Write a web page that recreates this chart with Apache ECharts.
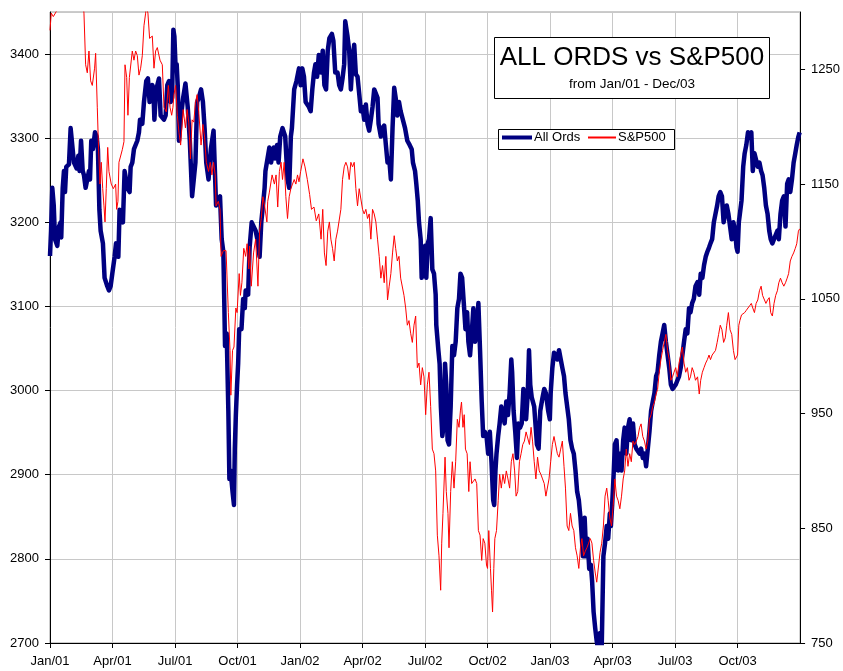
<!DOCTYPE html>
<html>
<head>
<meta charset="utf-8">
<script src="https://cdn.jsdelivr.net/npm/echarts@6/dist/echarts.min.js"></script>
<style>
  html, body { margin: 0; padding: 0; background: #fff; }
  #chart { width: 843px; height: 671px; }
</style>
</head>
<body>
<div id="chart"></div>
<script>
// x = months since Jan 2001
const quarterLabels = ['Jan/01','Apr/01','Jul/01','Oct/01','Jan/02','Apr/02','Jul/02','Oct/02','Jan/03','Apr/03','Jul/03','Oct/03'];

const allOrds = [
  [0,3160],[0.05,3190],[0.11,3241],[0.18,3220],[0.24,3180],[0.35,3172],[0.43,3195],[0.51,3200],[0.54,3182],[0.61,3241],
  [0.67,3261],[0.72,3236],[0.78,3266],[0.91,3269],[0.99,3312],[1.07,3312],[1.15,3271],[1.28,3264],[1.36,3279],[1.42,3261],
  [1.49,3297],[1.57,3261],[1.63,3256],[1.71,3241],[1.79,3241],[1.87,3261],[1.92,3251],[1.98,3297],[2.06,3287],[2.16,3307],
  [2.24,3302],[2.30,3287],[2.37,3215],[2.43,3190],[2.54,3175],[2.62,3134],[2.75,3124],[2.83,3119],[2.91,3124],[2.99,3139],
  [3.10,3159],[3.17,3175],[3.23,3175],[3.28,3159],[3.34,3215],[3.42,3215],[3.50,3200],[3.58,3261],[3.65,3251],[3.71,3241],
  [3.82,3236],[3.87,3266],[3.95,3271],[4.03,3287],[4.11,3287],[4.19,3297],[4.27,3307],[4.32,3322],[4.43,3317],[4.51,3343],
  [4.62,3368],[4.70,3371],[4.78,3343],[4.83,3358],[4.91,3363],[4.96,3360],[5.01,3322],[5.07,3348],[5.15,3363],[5.23,3371],
  [5.31,3327],[5.47,3322],[5.55,3327],[5.63,3363],[5.71,3368],[5.79,3343],[5.86,3348],[5.92,3429],[5.97,3421],[6.03,3383],
  [6.08,3388],[6.13,3363],[6.19,3297],[6.27,3322],[6.39,3348],[6.50,3365],[6.61,3337],[6.71,3297],[6.82,3231],[6.90,3251],
  [6.98,3271],[7.06,3343],[7.14,3348],[7.25,3358],[7.34,3343],[7.42,3312],[7.50,3271],[7.61,3251],[7.72,3287],[7.85,3309],
  [7.93,3307],[7.97,3220],[8.08,3226],[8.16,3231],[8.24,3180],[8.32,3165],[8.37,3098],[8.40,3053],[8.48,3068],[8.56,2976],
  [8.61,2895],[8.67,2905],[8.76,2880],[8.83,2864],[8.87,2931],[8.92,2971],[8.98,3007],[9.03,3032],[9.08,3073],[9.19,3073],
  [9.27,3109],[9.35,3098],[9.39,3119],[9.51,3114],[9.58,3170],[9.68,3200],[9.77,3200],[9.87,3190],[9.95,3180],[10.06,3159],
  [10.14,3200],[10.22,3220],[10.30,3241],[10.34,3261],[10.41,3261],[10.53,3289],[10.61,3271],[10.74,3289],[10.80,3276],[10.90,3292],
  [10.97,3271],[11.05,3302],[11.16,3312],[11.29,3302],[11.40,3251],[11.48,3241],[11.56,3302],[11.61,3312],[11.72,3358],[11.83,3368],
  [11.95,3383],[12.03,3363],[12.11,3383],[12.19,3373],[12.27,3343],[12.43,3337],[12.51,3332],[12.59,3358],[12.67,3378],[12.74,3388],
  [12.82,3373],[12.90,3399],[13.01,3378],[13.09,3404],[13.17,3363],[13.25,3358],[13.33,3404],[13.41,3419],[13.53,3424],[13.60,3416],
  [13.69,3378],[13.80,3378],[13.88,3363],[13.96,3358],[14.04,3371],[14.12,3388],[14.17,3439],[14.28,3421],[14.36,3404],[14.44,3358],
  [14.52,3393],[14.60,3411],[14.68,3376],[14.76,3373],[14.84,3353],[14.92,3332],[15.00,3337],[15.08,3322],[15.16,3340],[15.24,3317],
  [15.32,3309],[15.40,3322],[15.48,3337],[15.56,3358],[15.64,3360],[15.72,3348],[15.77,3317],[15.88,3302],[15.96,3312],[16.04,3315],
  [16.12,3292],[16.20,3271],[16.28,3276],[16.36,3251],[16.44,3312],[16.52,3360],[16.59,3348],[16.67,3327],[16.75,3343],[16.83,3332],
  [16.91,3330],[17.04,3312],[17.15,3297],[17.26,3292],[17.36,3287],[17.42,3271],[17.52,3261],[17.58,3246],[17.65,3226],[17.71,3200],
  [17.79,3180],[17.84,3134],[17.90,3165],[18.00,3172],[18.06,3134],[18.13,3175],[18.19,3180],[18.27,3205],[18.35,3144],[18.43,3139],
  [18.51,3114],[18.54,3078],[18.64,3048],[18.70,3032],[18.76,2981],[18.83,2946],[18.88,2956],[18.96,3032],[19.02,3007],[19.08,2941],
  [19.15,2936],[19.23,2981],[19.31,3053],[19.39,3042],[19.47,3058],[19.55,3098],[19.63,3109],[19.70,3139],[19.78,3134],[19.86,3104],
  [19.94,3073],[20.02,3093],[20.08,3058],[20.16,3042],[20.24,3068],[20.32,3098],[20.40,3058],[20.48,3068],[20.56,3104],[20.64,3048],
  [20.72,2987],[20.79,2946],[20.87,2951],[20.95,2946],[21.03,2925],[21.11,2951],[21.19,2915],[21.27,2870],[21.32,2864],[21.38,2905],
  [21.43,2925],[21.51,2946],[21.58,2961],[21.66,2981],[21.74,2981],[21.82,2961],[21.90,2987],[21.98,2971],[22.06,2997],[22.14,3037],
  [22.18,3022],[22.25,2976],[22.33,2951],[22.41,2920],[22.48,2961],[22.56,2956],[22.64,2961],[22.72,3002],[22.80,3002],[22.85,2966],
  [22.93,2997],[22.99,3048],[23.05,3007],[23.12,2992],[23.24,2981],[23.37,2936],[23.45,2931],[23.53,2976],[23.64,2992],[23.72,3002],
  [23.80,2997],[23.91,2976],[23.99,2966],[24.03,2997],[24.11,3027],[24.19,3045],[24.27,3042],[24.35,3037],[24.43,3048],[24.51,3050],
  [24.59,3027],[24.67,3017],[24.74,2997],[24.82,2997],[24.90,2966],[24.98,2941],[25.06,2931],[25.14,2925],[25.22,2905],[25.30,2880],
  [25.38,2870],[25.46,2849],[25.53,2824],[25.58,2803],[25.66,2849],[25.74,2803],[25.80,2824],[25.88,2788],[25.96,2793],[26.02,2773],
  [26.09,2737],[26.17,2717],[26.24,2702],[26.32,2690],[26.40,2712],[26.48,2695],[26.56,2803],[26.64,2819],[26.72,2839],[26.79,2824],
  [26.87,2854],[26.92,2839],[26.98,2864],[27.06,2905],[27.11,2936],[27.19,2941],[27.27,2905],[27.35,2925],[27.43,2905],[27.51,2941],
  [27.58,2956],[27.66,2925],[27.74,2956],[27.82,2966],[27.90,2941],[27.98,2961],[28.06,2936],[28.14,2931],[28.22,2931],[28.30,2925],
  [28.37,2931],[28.45,2920],[28.53,2925],[28.61,2910],[28.69,2908],[28.77,2951],[28.85,2976],[28.93,2987],[29.01,2997],[29.09,3017],
  [29.16,3022],[29.24,3042],[29.32,3058],[29.40,3068],[29.48,3078],[29.56,3058],[29.64,3058],[29.72,3027],[29.80,3007],[29.88,3002],
  [29.95,3002],[30.03,3007],[30.11,3012],[30.19,3017],[30.27,3027],[30.35,3042],[30.43,3058],[30.51,3073],[30.59,3068],[30.67,3098],
  [30.74,3093],[30.82,3104],[30.90,3109],[30.98,3124],[31.08,3129],[31.16,3114],[31.23,3139],[31.31,3134],[31.39,3149],[31.47,3159],
  [31.55,3165],[31.63,3170],[31.70,3175],[31.78,3180],[31.86,3200],[31.94,3210],[32.02,3220],[32.09,3231],[32.17,3236],[32.25,3231],
  [32.33,3200],[32.41,3200],[32.48,3220],[32.56,3210],[32.64,3195],[32.72,3180],[32.80,3200],[32.88,3190],[32.95,3170],[33.00,3165],
  [33.06,3200],[33.11,3210],[33.19,3226],[33.27,3266],[33.34,3282],[33.42,3292],[33.50,3307],[33.58,3302],[33.66,3307],[33.73,3261],
  [33.81,3282],[33.89,3282],[33.97,3266],[34.05,3271],[34.13,3261],[34.20,3256],[34.28,3241],[34.36,3220],[34.44,3210],[34.52,3190],
  [34.59,3180],[34.67,3175],[34.75,3180],[34.83,3180],[34.91,3190],[34.98,3180],[35.06,3210],[35.14,3226],[35.22,3231],[35.30,3195],
  [35.38,3246],[35.45,3251],[35.53,3236],[35.61,3251],[35.69,3271],[35.77,3282],[35.84,3292],[35.92,3302],[35.98,3307]
];

const sp500 = [
  [0,1284],[0.06,1299],[0.16,1296],[0.24,1297],[0.32,1301],[0.45,1325],[0.75,1350],[1.05,1370],[1.35,1340],[1.55,1315],
  [1.63,1299],[1.71,1254],[1.79,1247],[1.87,1266],[1.95,1240],[2.03,1236],[2.14,1251],[2.19,1264],[2.27,1217],[2.32,1187],
  [2.40,1150],[2.46,1169],[2.53,1146],[2.59,1131],[2.64,1117],[2.70,1146],[2.77,1182],[2.83,1161],[2.94,1150],[3.04,1146],
  [3.15,1150],[3.20,1128],[3.26,1135],[3.31,1169],[3.47,1180],[3.55,1187],[3.60,1254],[3.68,1243],[3.74,1210],[3.81,1243],
  [3.95,1266],[4.03,1258],[4.11,1266],[4.19,1262],[4.27,1245],[4.35,1251],[4.43,1262],[4.51,1288],[4.59,1299],[4.62,1305],
  [4.70,1299],[4.78,1277],[4.91,1279],[4.99,1251],[5.07,1266],[5.15,1269],[5.28,1258],[5.39,1254],[5.47,1217],[5.58,1213],
  [5.68,1236],[5.76,1217],[5.84,1210],[5.90,1217],[5.95,1228],[6.03,1236],[6.11,1210],[6.19,1195],[6.27,1184],[6.39,1215],
  [6.50,1199],[6.58,1215],[6.66,1204],[6.74,1172],[6.82,1206],[6.90,1204],[6.98,1221],[7.06,1228],[7.14,1213],[7.25,1184],
  [7.34,1202],[7.42,1191],[7.50,1169],[7.61,1161],[7.69,1169],[7.77,1158],[7.85,1169],[7.93,1158],[7.97,1131],[8.08,1135],
  [8.16,1128],[8.21,1087],[8.32,1092],[8.45,1092],[8.56,1038],[8.64,1005],[8.68,966],[8.76,1005],[8.83,1008],[8.92,1042],
  [8.98,1038],[9.08,1072],[9.14,1053],[9.21,1064],[9.30,1094],[9.39,1087],[9.46,1098],[9.54,1076],[9.58,1096],[9.66,1061],
  [9.77,1090],[9.87,1102],[9.98,1061],[10.06,1109],[10.14,1120],[10.22,1139],[10.30,1131],[10.41,1117],[10.45,1135],[10.53,1143],
  [10.66,1158],[10.77,1150],[10.85,1158],[10.93,1130],[11.01,1161],[11.09,1169],[11.16,1154],[11.24,1169],[11.32,1139],[11.40,1120],
  [11.48,1139],[11.56,1146],[11.64,1150],[11.72,1154],[11.80,1150],[11.88,1158],[11.95,1152],[12.03,1161],[12.14,1172],[12.24,1165],
  [12.35,1154],[12.46,1141],[12.55,1128],[12.67,1130],[12.78,1118],[12.90,1124],[13.01,1102],[13.09,1128],[13.17,1090],[13.25,1079],
  [13.33,1109],[13.41,1117],[13.48,1102],[13.56,1094],[13.64,1083],[13.72,1102],[13.80,1109],[13.88,1109],[13.96,1128],[14.04,1154],
  [14.12,1165],[14.20,1169],[14.28,1165],[14.36,1154],[14.44,1169],[14.52,1165],[14.60,1169],[14.68,1146],[14.76,1131],[14.84,1146],
  [14.92,1146],[15.00,1128],[15.08,1124],[15.16,1128],[15.24,1120],[15.32,1124],[15.40,1102],[15.48,1128],[15.56,1124],[15.64,1117],
  [15.72,1102],[15.80,1087],[15.88,1068],[15.96,1079],[16.04,1064],[16.12,1087],[16.20,1049],[16.28,1061],[16.36,1072],[16.44,1090],
  [16.52,1105],[16.59,1094],[16.67,1083],[16.75,1087],[16.83,1068],[16.91,1068],[16.99,1053],[17.07,1042],[17.15,1027],[17.23,1031],
  [17.31,1020],[17.39,1012],[17.47,1027],[17.55,1035],[17.63,990],[17.71,994],[17.79,975],[17.87,990],[17.95,982],[18.03,949],
  [18.11,975],[18.19,986],[18.27,956],[18.35,919],[18.43,915],[18.51,900],[18.59,844],[18.67,826],[18.75,796],[18.80,837],
  [18.86,863],[18.96,912],[19.02,882],[19.10,863],[19.15,833],[19.23,882],[19.31,908],[19.39,885],[19.47,908],[19.55,945],
  [19.63,938],[19.70,953],[19.75,960],[19.82,938],[19.88,949],[19.94,919],[20.02,915],[20.10,882],[20.16,908],[20.24,889],
  [20.32,889],[20.40,893],[20.48,889],[20.56,848],[20.64,844],[20.72,822],[20.79,841],[20.87,837],[20.95,818],[21.00,815],
  [21.06,848],[21.14,815],[21.19,796],[21.24,777],[21.30,815],[21.35,841],[21.43,848],[21.51,874],[21.58,897],[21.66,885],
  [21.74,897],[21.82,889],[21.90,900],[21.98,893],[22.06,885],[22.14,908],[22.22,915],[22.30,900],[22.37,878],[22.45,882],
  [22.53,908],[22.61,915],[22.69,923],[22.77,926],[22.85,934],[22.93,934],[23.01,923],[23.09,938],[23.16,926],[23.24,908],
  [23.32,893],[23.40,912],[23.48,900],[23.56,897],[23.64,893],[23.72,889],[23.80,878],[23.88,878],[23.95,893],[24.03,908],
  [24.11,923],[24.19,930],[24.27,930],[24.35,915],[24.43,912],[24.51,919],[24.59,926],[24.67,904],[24.74,885],[24.82,852],
  [24.90,848],[24.98,863],[25.06,852],[25.14,848],[25.22,833],[25.30,826],[25.38,815],[25.46,833],[25.53,841],[25.61,826],
  [25.69,830],[25.77,833],[25.85,837],[25.93,841],[26.01,837],[26.09,822],[26.17,811],[26.24,803],[26.32,803],[26.40,829],
  [26.48,837],[26.56,852],[26.64,878],[26.72,885],[26.79,874],[26.87,859],[26.95,852],[27.03,870],[27.11,893],[27.19,878],
  [27.27,874],[27.35,867],[27.43,878],[27.51,893],[27.58,900],[27.66,919],[27.74,904],[27.82,915],[27.90,908],[27.98,926],
  [28.06,923],[28.14,926],[28.22,930],[28.30,938],[28.37,941],[28.45,930],[28.53,926],[28.61,919],[28.69,926],[28.77,945],
  [28.85,949],[28.93,956],[29.01,960],[29.09,967],[29.16,971],[29.24,986],[29.32,997],[29.40,1005],[29.48,1012],[29.56,1019],
  [29.64,1005],[29.72,997],[29.80,979],[29.88,982],[29.95,986],[30.03,990],[30.11,982],[30.19,994],[30.27,1001],[30.35,1008],
  [30.43,994],[30.51,986],[30.59,990],[30.67,979],[30.74,982],[30.82,990],[30.90,986],[30.98,979],[31.08,982],[31.16,967],
  [31.23,979],[31.31,986],[31.39,990],[31.47,994],[31.55,997],[31.63,1001],[31.70,997],[31.78,1001],[31.86,1001],[31.94,1005],
  [32.02,1012],[32.09,1019],[32.17,1027],[32.25,1023],[32.33,1012],[32.41,1016],[32.48,1027],[32.56,1038],[32.64,1023],[32.72,1019],
  [32.80,1005],[32.88,997],[32.95,997],[33.00,1001],[33.06,1027],[33.11,1031],[33.19,1036],[33.27,1036],[33.34,1038],[33.42,1040],
  [33.50,1042],[33.58,1044],[33.66,1046],[33.73,1042],[33.81,1038],[33.89,1046],[33.97,1049],[34.05,1057],[34.13,1061],[34.20,1053],
  [34.28,1053],[34.36,1046],[34.44,1049],[34.52,1051],[34.59,1038],[34.67,1035],[34.75,1046],[34.83,1053],[34.91,1057],[34.98,1064],
  [35.06,1068],[35.14,1064],[35.22,1061],[35.30,1064],[35.38,1068],[35.45,1072],[35.53,1083],[35.61,1087],[35.69,1090],[35.77,1094],
  [35.84,1098],[35.92,1109],[35.98,1111]
];

const fontFamily = '"Liberation Sans", Arial, sans-serif';

let myChart = echarts.init(document.getElementById('chart'));
myChart.setOption({
  animation: false,
  backgroundColor: '#fff',
  textStyle: { fontFamily: fontFamily },
  grid: {
    left: 50,
    right: 39,
    top: 12,
    bottom: 28,
    show: true,
    borderColor: '#999',
    borderWidth: 1
  },
  xAxis: {
    type: 'value',
    min: 0,
    max: 36,
    interval: 3,
    axisLine: { lineStyle: { color: '#000' } },
    axisTick: { length: 5, lineStyle: { color: '#000' } },
    axisLabel: {
      color: '#000',
      fontSize: 13,
      margin: 12,
      showMaxLabel: false,
      formatter: function (v) { return quarterLabels[v / 3] || ''; }
    },
    splitLine: { show: true, lineStyle: { color: '#c8c8c8' } }
  },
  yAxis: [
    {
      type: 'value',
      min: 2700,
      max: 3450,
      interval: 100,
      axisLine: { show: true, lineStyle: { color: '#000' } },
      axisTick: { show: true, length: 5, lineStyle: { color: '#000' } },
      axisLabel: { color: '#000', fontSize: 13, margin: 11, showMaxLabel: false, formatter: function (v) { return String(v); } },
      splitLine: { show: true, lineStyle: { color: '#c8c8c8' } }
    },
    {
      type: 'value',
      position: 'right',
      min: 750,
      max: 1300,
      interval: 100,
      axisLine: { show: true, lineStyle: { color: '#000' } },
      axisTick: { show: true, length: 5, lineStyle: { color: '#000' } },
      axisLabel: { color: '#000', fontSize: 13, margin: 11, showMaxLabel: false, formatter: function (v) { return String(v); } },
      splitLine: { show: false }
    }
  ],
  legend: [
    {
      left: 502,
      top: 131,
      padding: 0,
      icon: 'rect',
      itemWidth: 30,
      itemHeight: 4,
      itemStyle: { borderWidth: 0 },
      textStyle: { color: '#000', fontSize: 13, padding: [0, 0, 0, -3] },
      data: ['All Ords']
    },
    {
      left: 588,
      top: 131,
      padding: 0,
      icon: 'rect',
      itemWidth: 28,
      itemHeight: 2,
      itemStyle: { color: '#ff0000', borderWidth: 0 },
      textStyle: { color: '#000', fontSize: 13, padding: [0, 0, 0, -3] },
      data: ['S&P500']
    }
  ],
  graphic: [
    {
      type: 'rect',
      left: 498,
      top: 129,
      shape: { width: 176, height: 20 },
      style: { fill: '#fff', stroke: '#000', lineWidth: 1 },
      z: 3
    },
    {
      type: 'rect',
      left: 494,
      top: 37,
      shape: { width: 275, height: 61 },
      style: { fill: '#fff', stroke: '#000', lineWidth: 1 },
      z: 100
    },
    {
      type: 'text',
      x: 632,
      y: 58,
      style: {
        text: 'ALL ORDS vs S&P500',
        fontSize: 26,
        fontFamily: fontFamily,
        fill: '#000',
        align: 'center',
        verticalAlign: 'middle'
      },
      z: 101
    },
    {
      type: 'text',
      x: 632,
      y: 84,
      style: {
        text: 'from Jan/01 - Dec/03',
        fontSize: 13.5,
        fontFamily: fontFamily,
        fill: '#000',
        align: 'center',
        verticalAlign: 'middle'
      },
      z: 101
    }
  ],
  series: [
    {
      name: 'All Ords',
      type: 'line',
      yAxisIndex: 0,
      data: allOrds,
      symbol: 'none',
      clip: true,
      itemStyle: { color: '#000080' },
      lineStyle: { color: '#000080', width: 4.5, join: 'round' }
    },
    {
      name: 'S&P500',
      type: 'line',
      yAxisIndex: 1,
      data: sp500,
      symbol: 'none',
      clip: true,
      itemStyle: { color: '#ff0000' },
      lineStyle: { color: '#ff0000', width: 1 }
    }
  ]
});
</script>
</body>
</html>
